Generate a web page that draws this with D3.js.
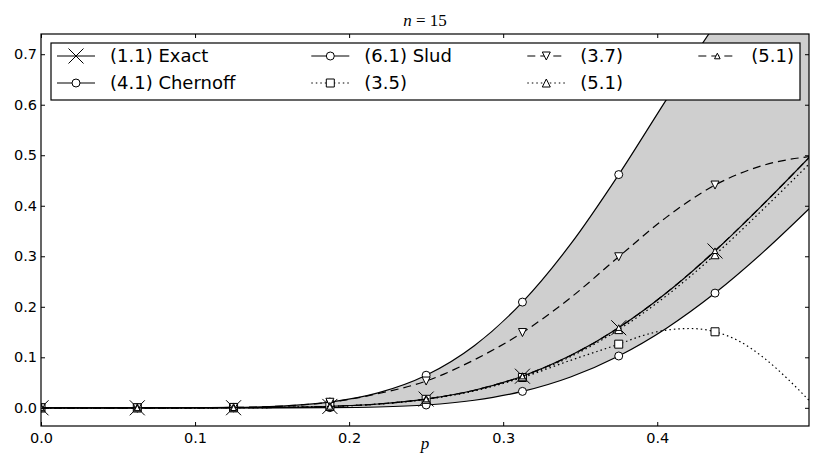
<!DOCTYPE html>
<html>
<head>
<meta charset="utf-8">
<script src="https://cdn.jsdelivr.net/npm/d3@7"></script>
<style>
  body { margin: 0; background: #fff; }
  svg { display: block; }
  .tick text { font-family: "DejaVu Sans", sans-serif; font-size: 14.5px; fill: #000; }
  .tick line { stroke: #000; stroke-width: 1; }
</style>
</head>
<body>
<svg id="chart" width="830" height="461"></svg>
<script>
// p grid shared by most curves (steps of 1/32)
const pGrid = [0, 0.03125, 0.0625, 0.09375, 0.125, 0.15625, 0.1875, 0.21875, 0.25,
  0.28125, 0.3125, 0.34375, 0.375, 0.40625, 0.4375, 0.46875, 0.5];

const exact    = [0, 0, 0.0000015, 0.00002, 0.00017, 0.00081, 0.00277, 0.00755, 0.0173,
  0.0347, 0.0626, 0.1034, 0.1585, 0.2281, 0.3105, 0.4028, 0.5];
const chernoff = [0, 0, 0.000005, 0.0001, 0.00074, 0.00343, 0.0113, 0.0295, 0.0645,
  0.123, 0.2093, 0.3239, 0.4617, 0.6117, 0.758, 0.882, 0.967];
const slud     = [0, 0, 0, 0, 0.000001, 0.00003, 0.0003, 0.0016, 0.0056,
  0.015, 0.0325, 0.0611, 0.1026, 0.1581, 0.2271, 0.3081, 0.3981];
const eq37     = [0, 0, 0.000004, 0.0001, 0.0008, 0.0035, 0.011, 0.028, 0.053,
  0.095, 0.149, 0.218, 0.299, 0.378, 0.441, 0.480, 0.498];
const eq51dot  = [0, 0, 0.0000015, 0.00002, 0.00017, 0.0008, 0.00275, 0.0075, 0.0171,
  0.0342, 0.0615, 0.1012, 0.1548, 0.2225, 0.303, 0.393, 0.487];
const eq51dash = [0, 0, 0.0000015, 0.00002, 0.00017, 0.00081, 0.00277, 0.00756, 0.0174,
  0.0348, 0.0628, 0.1036, 0.1588, 0.2285, 0.311, 0.403, 0.5];

// (3.5) turns over near the end, so it is read on a finer grid there
const p35  = [0, 0.03125, 0.0625, 0.09375, 0.125, 0.15625, 0.1875, 0.21875, 0.25,
  0.28125, 0.3125, 0.34375, 0.375, 0.390625, 0.40625, 0.421875, 0.4375, 0.453125,
  0.46875, 0.484375, 0.5];
const eq35 = [0, 0, 0.0000015, 0.00002, 0.00017, 0.0008, 0.0027, 0.0074, 0.0168,
  0.0335, 0.060, 0.094, 0.126, 0.143, 0.154, 0.157, 0.1505, 0.132,
  0.100, 0.058, 0.010];

const xTicks = [0, 0.1, 0.2, 0.3, 0.4];
const yTicks = [0, 0.1, 0.2, 0.3, 0.4, 0.5, 0.6, 0.7];
const titleN = "15";

const svg = d3.select("#chart");
const plotLeft = 41, plotRight = 809, plotTop = 34, plotBottom = 426;

const x = d3.scaleLinear().domain([0, 0.4985]).range([plotLeft, plotRight]);
const y = d3.scaleLinear().domain([-0.036, 0.74]).range([plotBottom, plotTop]);

svg.append("defs").append("clipPath").attr("id", "plotclip")
  .append("rect")
  .attr("x", plotLeft).attr("y", plotTop)
  .attr("width", plotRight - plotLeft).attr("height", plotBottom - plotTop);

const plot = svg.append("g").attr("clip-path", "url(#plotclip)");

// grey band between the Chernoff and Slud curves
const band = pGrid.map((p, i) => ({ p: p, hi: chernoff[i], lo: slud[i] }));
plot.append("path")
  .datum(band)
  .attr("fill", "#cfcfcf")
  .attr("d", d3.area()
    .x(d => x(d.p))
    .y0(d => y(d.lo))
    .y1(d => y(d.hi))
    .curve(d3.curveMonotoneX));

// marker shapes
function markerPath(type, s) {
  if (type === "x") return `M${-s},${-s}L${s},${s}M${-s},${s}L${s},${-s}`;
  if (type === "square") return `M${-s},${-s}H${s}V${s}H${-s}Z`;
  if (type === "up") return `M0,${-s}L${s},${s}L${-s},${s}Z`;
  if (type === "down") return `M0,${s}L${s},${-s}L${-s},${-s}Z`;
  if (type === "circle") return d3.symbol(d3.symbolCircle, Math.PI * s * s)();
  return "";
}

const series = [
  { label: "(1.1) Exact",    px: pGrid, py: exact,    dash: null,  marker: "x",      size: 7.5 },
  { label: "(4.1) Chernoff", px: pGrid, py: chernoff, dash: null,  marker: "circle", size: 4 },
  { label: "(6.1) Slud",     px: pGrid, py: slud,     dash: null,  marker: "circle", size: 4 },
  { label: "(3.5)",          px: p35,   py: eq35,     dash: "1.5,3", marker: "square", size: 4 },
  { label: "(3.7)",          px: pGrid, py: eq37,     dash: "8,5", marker: "down",   size: 4 },
  { label: "(5.1)",          px: pGrid, py: eq51dot,  dash: "1.5,3", marker: "up",   size: 4 },
  { label: "(5.1)",          px: pGrid, py: eq51dash, dash: "8,5", marker: "up",     size: 2.8 }
];

const line = d3.line()
  .x(d => x(d[0]))
  .y(d => y(d[1]))
  .curve(d3.curveMonotoneX);

series.forEach(s => {
  const pts = s.px.map((p, i) => [p, s.py[i]]);
  plot.append("path")
    .datum(pts)
    .attr("fill", "none")
    .attr("stroke", "#000")
    .attr("stroke-width", 1.2)
    .attr("stroke-dasharray", s.dash)
    .attr("d", line);

  // markers every 1/16 in p
  const marks = pts.filter(d => d[0] < 0.5 && Math.abs(d[0] * 16 - Math.round(d[0] * 16)) < 1e-9);
  plot.selectAll(null)
    .data(marks)
    .enter().append("path")
    .attr("transform", d => `translate(${x(d[0])},${y(d[1])})`)
    .attr("d", markerPath(s.marker, s.size))
    .attr("fill", s.marker === "x" ? "none" : "#fff")
    .attr("stroke", "#000")
    .attr("stroke-width", 1);
});

// axes, ticks pointing inward on all four sides
const fmt = d3.format(".1f");
svg.append("g")
  .attr("transform", `translate(0,${plotBottom})`)
  .call(d3.axisBottom(x).tickValues(xTicks).tickSize(-4).tickPadding(7).tickFormat(fmt))
  .call(g => g.select(".domain").remove());
svg.append("g")
  .attr("transform", `translate(0,${plotTop})`)
  .call(d3.axisTop(x).tickValues(xTicks).tickSize(-4).tickFormat(""))
  .call(g => g.select(".domain").remove());
svg.append("g")
  .attr("transform", `translate(${plotLeft},0)`)
  .call(d3.axisLeft(y).tickValues(yTicks).tickSize(-4).tickPadding(4).tickFormat(fmt))
  .call(g => g.select(".domain").remove());
svg.append("g")
  .attr("transform", `translate(${plotRight},0)`)
  .call(d3.axisRight(y).tickValues(yTicks).tickSize(-4).tickFormat(""))
  .call(g => g.select(".domain").remove());

svg.append("rect")
  .attr("x", plotLeft).attr("y", plotTop)
  .attr("width", plotRight - plotLeft).attr("height", plotBottom - plotTop)
  .attr("fill", "none").attr("stroke", "#000").attr("stroke-width", 1.2);

// title and x label
const title = svg.append("text")
  .attr("x", (plotLeft + plotRight) / 2).attr("y", 26)
  .attr("text-anchor", "middle")
  .style("font-family", "'Liberation Serif', serif")
  .style("font-size", "17px");
title.append("tspan").style("font-style", "italic").text("n");
title.append("tspan").text(" = " + titleN);

svg.append("text")
  .attr("x", (plotLeft + plotRight) / 2).attr("y", 449)
  .attr("text-anchor", "middle")
  .style("font-family", "'Liberation Serif', serif")
  .style("font-size", "17px")
  .style("font-style", "italic")
  .text("p");

// legend: 4 columns, filled column by column, stretched to the axes width
const lgX0 = plotLeft + 10, lgX1 = plotRight - 9, lgY0 = plotTop + 9, lgY1 = plotTop + 66;
const legend = svg.append("g");
legend.append("rect")
  .attr("x", lgX0).attr("y", lgY0)
  .attr("width", lgX1 - lgX0).attr("height", lgY1 - lgY0)
  .attr("fill", "#fff").attr("stroke", "#000").attr("stroke-width", 1.2);

const nCol = 4, nRow = 2, handleLen = 38, textPad = 15, innerPad = 6;
const rowY = [lgY0 + 13, lgY0 + 40];
const cols = d3.range(nCol).map(c => series.slice(c * nRow, c * nRow + nRow));

const colGroups = cols.map(items => {
  const g = legend.append("g");
  items.forEach((s, r) => {
    const item = g.append("g").attr("transform", `translate(0,${rowY[r]})`);
    item.append("line")
      .attr("x1", 0).attr("x2", handleLen)
      .attr("stroke", "#000").attr("stroke-width", 1.2)
      .attr("stroke-dasharray", s.dash);
    item.append("path")
      .attr("transform", `translate(${handleLen / 2},0)`)
      .attr("d", markerPath(s.marker, s.size))
      .attr("fill", s.marker === "x" ? "none" : "#fff")
      .attr("stroke", "#000").attr("stroke-width", 1);
    item.append("text")
      .attr("x", handleLen + textPad).attr("dy", "0.35em")
      .style("font-family", "'DejaVu Sans', sans-serif")
      .style("font-size", "18px")
      .text(s.label);
  });
  return g;
});

const widths = colGroups.map(g => g.node().getBBox().width);
const gap = ((lgX1 - lgX0 - 2 * innerPad) - d3.sum(widths)) / (nCol - 1);
let cx = lgX0 + innerPad;
colGroups.forEach((g, i) => {
  g.attr("transform", `translate(${cx},0)`);
  cx += widths[i] + gap;
});
</script>
</body>
</html>
